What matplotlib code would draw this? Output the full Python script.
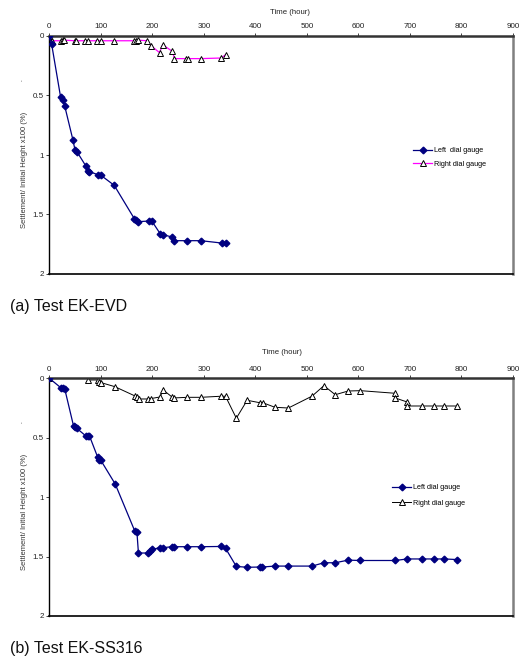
import matplotlib.pyplot as plt

plt.rcParams['font.family'] = ['Liberation Sans', 'DejaVu Sans']

# Test EK-EVD
evd_left_t = [0, 4.6, 22, 26, 30, 46, 50, 54, 70.6, 75, 78, 94, 100, 126, 165, 168, 172,
              194, 199, 215, 221, 239, 242, 268, 294, 335, 343]
evd_left_s = [0, 0.07, 0.515, 0.54, 0.59, 0.876, 0.96, 0.975, 1.09, 1.135, 1.14, 1.165, 1.17,
              1.255, 1.535, 1.55, 1.56, 1.555, 1.555, 1.66, 1.67, 1.69, 1.72, 1.72, 1.72,
              1.74, 1.74]
evd_right_t = [0, 5, 22, 26, 29, 49, 52, 70, 75, 93, 100, 126, 165, 168, 173, 190, 197, 214,
               220, 239, 243, 266, 270, 294, 334, 342]
evd_right_s = [0, 0.04, 0.04, 0.035, 0.035, 0.04, 0.04, 0.04, 0.04, 0.04, 0.04, 0.04, 0.04,
               0.04, 0.035, 0.04, 0.08, 0.14, 0.073, 0.13, 0.19, 0.19, 0.19, 0.19, 0.185, 0.157]

# Test EK-SS316
ss_left_t = [0, 22, 26, 30, 47, 50, 53, 71, 75, 78, 94, 97, 100, 128, 166, 170, 173, 191, 196,
             200, 214, 221, 238, 243, 268, 294, 333, 342, 363, 384, 408, 412.6, 438, 463, 510,
             533, 555, 580, 604, 671, 695, 723, 747, 767, 791]
ss_left_s = [0, 0.078, 0.084, 0.09, 0.40, 0.41, 0.42, 0.485, 0.485, 0.485, 0.665, 0.686, 0.69,
             0.89, 1.286, 1.29, 1.47, 1.47, 1.457, 1.44, 1.425, 1.425, 1.417, 1.417, 1.417,
             1.417, 1.415, 1.43, 1.583, 1.59, 1.588, 1.588, 1.58, 1.58, 1.58, 1.552, 1.552,
             1.53, 1.533, 1.533, 1.52, 1.52, 1.52, 1.52, 1.525]
ss_right_t = [0, 30, 70, 76, 94, 97, 100, 127, 167, 170, 174, 191, 198, 215, 221, 239, 243,
              268, 294, 333, 342, 363, 384, 408, 414, 438, 464, 510, 533, 555, 580, 604, 671,
              671, 695, 695, 723, 747, 767, 791]
ss_right_s = [0, -0.017, -0.017, 0.014, 0.014, 0.028, 0.036, 0.07, 0.15, 0.16, 0.174, 0.174,
              0.17, 0.157, 0.098, 0.16, 0.165, 0.16, 0.16, 0.151, 0.151, 0.336, 0.185, 0.205,
              0.205, 0.244, 0.25, 0.15, 0.062, 0.138, 0.107, 0.104, 0.126, 0.165, 0.2, 0.233,
              0.233, 0.233, 0.233, 0.233]

W, H = 519, 658
fig = plt.figure(figsize=(W / 100, H / 100), dpi=100)


def px_rect(x0, y0, x1, y1):
    return [x0 / W, 1 - y1 / H, (x1 - x0) / W, (y1 - y0) / H]


def setup(ax):
    ax.set_xlim(0, 900)
    ax.set_ylim(2, 0)
    ax.xaxis.tick_top()
    ax.set_xticks(range(0, 901, 100))
    ax.set_yticks([0, 0.5, 1, 1.5, 2])
    ax.set_yticklabels(['0', '0.5', '1', '1.5', '2'])
    ax.tick_params(axis='both', labelsize=5.8, length=2, width=0.6, pad=2, colors='#222222')
    ax.spines['top'].set_linewidth(1.8)
    ax.spines['top'].set_color('#333333')
    ax.spines['right'].set_linewidth(1.8)
    ax.spines['right'].set_color('#808080')
    ax.spines['left'].set_linewidth(1.0)
    ax.spines['bottom'].set_linewidth(1.2)


def labels(ax_top_px, ax_bot_px, title_xy):
    mid = (ax_top_px + ax_bot_px) / 2 + 15
    fig.text(25 / W, 1 - mid / H, 'Settlement/ Initial Height x100 (%)', rotation=90,
             fontsize=5.5, color='#333333', ha='center', va='center')
    fig.text(22.7 / W, 1 - (ax_top_px + 44) / H, '-', rotation=90, fontsize=3.5,
             color='#333333', ha='center', va='center')
    fig.text(title_xy[0] / W, 1 - title_xy[1] / H, 'Time (hour)', fontsize=5.6,
             color='#222222', ha='center', va='center')


# (a) Test EK-EVD
ax1 = fig.add_axes(px_rect(49.3, 36, 513, 274))
setup(ax1)
ax1.plot(evd_left_t, evd_left_s, color='#000080', lw=0.9, marker='D', ms=3.4,
         mfc='#000080', mec='#000080', label='Left  dial gauge', zorder=3)
ax1.plot(evd_right_t, evd_right_s, color='#ff00ff', lw=0.9, marker='^', ms=4.2,
         mfc='white', mec='black', mew=0.7, label='Right dial gauge', zorder=2)
ax1.legend(loc='upper left', bbox_to_anchor=((418 - 49.3) / 463.7 - 0.01, (274 - 147) / 238),
           fontsize=5.2, frameon=False, handlelength=2.6, handletextpad=0.3,
           labelspacing=0.9, borderpad=0, borderaxespad=0)
labels(36, 274, (290, 13))
fig.text(10 / W, 1 - 307 / H, '(a) Test EK-EVD', fontsize=11.5, color='#111111',
         ha='left', va='center')

# (b) Test EK-SS316
ax2 = fig.add_axes(px_rect(49.3, 378.3, 513, 616))
setup(ax2)
ax2.plot(ss_left_t, ss_left_s, color='#000080', lw=0.9, marker='D', ms=3.4,
         mfc='#000080', mec='#000080', label='Left dial gauge', zorder=3)
ax2.plot(ss_right_t, ss_right_s, color='black', lw=0.7, marker='^', ms=4.2,
         mfc='white', mec='black', mew=0.7, label='Right dial gauge', zorder=2,
         markevery=[0] + list(range(3, len(ss_right_t))))
ax2.legend(loc='upper left', bbox_to_anchor=((397 - 49.3) / 463.7 - 0.01, (616 - 484) / 238),
           fontsize=5.2, frameon=False, handlelength=2.6, handletextpad=0.3,
           labelspacing=1.2, borderpad=0, borderaxespad=0)
labels(378.3, 616, (282, 353))
fig.text(10 / W, 1 - 648 / H, '(b) Test EK-SS316', fontsize=11.5, color='#111111',
         ha='left', va='center')

fig.savefig('out.png', dpi=100)
